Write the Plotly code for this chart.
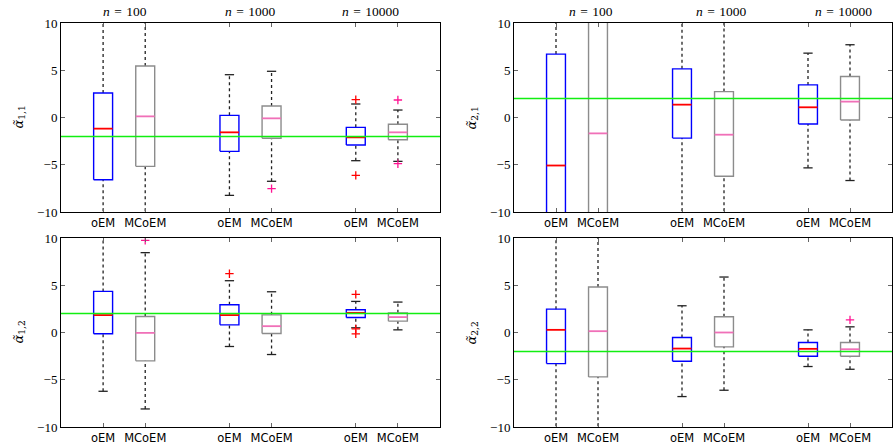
import plotly.graph_objects as go

# ---------------- data ----------------
positions = [1, 2, 4, 5, 7, 8]
method_labels = ["oEM", "MCoEM", "oEM", "MCoEM", "oEM", "MCoEM"]
group_sizes = ["100", "1000", "10000"]
panel_subscripts = ["1,1", "2,1", "1,2", "2,2"]
true_values = [-2, 2, 2, -2]

# alpha_11 (top-left)
a11_q1 = [-6.58, -5.17, -3.58, -2.20, -2.91, -2.35]
a11_med = [-1.18, 0.12, -1.57, -0.09, -2.10, -1.57]
a11_q3 = [2.59, 5.45, 0.23, 1.22, -1.04, -0.72]
a11_lo = [-15.0, -15.0, -8.24, -6.75, -4.57, -4.64]
a11_hi = [15.0, 15.0, 4.53, 4.89, 1.43, 0.79]
a11_out = [[], [], [], [-7.53], [1.89, -6.12], [1.85, -4.89]]

# alpha_21 (top-right)
a21_q1 = [-14.0, -14.0, -2.18, -6.21, -0.69, -0.27]
a21_med = [-5.08, -1.68, 1.36, -1.82, 1.08, 1.68]
a21_q3 = [6.71, 13.0, 5.15, 2.74, 3.45, 4.34]
a21_lo = [-20.0, -20.0, -15.0, -15.0, -5.33, -6.67]
a21_hi = [15.0, 20.0, 15.0, 15.0, 6.81, 7.70]
a21_out = [[], [], [], [], [], []]

# alpha_12 (bottom-left)
a12_q1 = [-0.14, -3.00, 0.81, -0.11, 1.59, 1.20]
a12_med = [1.84, -0.04, 1.84, 0.67, 2.08, 1.63]
a12_q3 = [4.35, 1.70, 2.93, 1.87, 2.40, 2.08]
a12_lo = [-6.22, -8.09, -1.48, -2.33, 0.50, 0.28]
a12_hi = [15.0, 8.45, 5.48, 4.31, 3.29, 3.22]
a12_out = [[], [9.75], [6.22], [], [4.03, 0.38, -0.15], []]

# alpha_22 (bottom-right)
a22_q1 = [-3.29, -4.70, -3.04, -1.52, -2.51, -2.51]
a22_med = [0.28, 0.14, -1.70, 0.00, -1.73, -1.77]
a22_q3 = [2.47, 4.81, -0.53, 1.66, -1.06, -1.06]
a22_lo = [-15.0, -15.0, -6.78, -6.11, -3.60, -3.89]
a22_hi = [15.0, 15.0, 2.83, 5.87, 0.28, 0.60]
a22_out = [[], [], [], [], [], [1.34]]

panels = [
    (a11_q1, a11_med, a11_q3, a11_lo, a11_hi, a11_out),
    (a21_q1, a21_med, a21_q3, a21_lo, a21_hi, a21_out),
    (a12_q1, a12_med, a12_q3, a12_lo, a12_hi, a12_out),
    (a22_q1, a22_med, a22_q3, a22_lo, a22_hi, a22_out),
]

# ---------------- style ----------------
W, H = 893, 444
BOX_HALF = 0.225
CAP_HALF = 0.11
box_colors = ["#0000ff", "#8c8c8c"]
median_colors = ["#ff0000", "#f070b8"]
outlier_colors = ["#ff0000", "#ff1493"]
whisker_color = "#222222"
truth_color = "#11ee11"
serif = "DejaVu Serif, Liberation Serif, serif"
num_serif = "Liberation Serif, Times New Roman, serif"
sans = "DejaVu Sans, sans-serif"

# pixel boxes of plotting areas: (left, right, top, bottom)
areas = [(61, 440, 23, 212), (514, 892, 23, 212), (61, 440, 238, 427), (514, 892, 238, 427)]
group_label_x = [[1.52, 4.49, 7.36], [1.83, 4.95, 7.85]]

fig = go.Figure()
layout = dict(template="none", width=W, height=H, margin=dict(l=0, r=0, t=0, b=0, autoexpand=False),
              paper_bgcolor="white", plot_bgcolor="white", showlegend=False)
annotations = []

for k, (q1, med, q3, lo, hi, out) in enumerate(panels):
    sfx = "" if k == 0 else str(k + 1)
    xa, ya = "x" + sfx, "y" + sfx
    l, r, t, b = areas[k]
    layout["xaxis" + sfx] = dict(
        domain=[l / W, r / W], range=[0, 9], anchor=ya, automargin=False,
        tickmode="array", tickvals=positions, ticktext=method_labels,
        tickfont=dict(family=sans, size=11.5, color="black"),
        ticks="inside", ticklen=4, tickcolor="#666", showline=True, linecolor="black",
        linewidth=1, mirror="allticks", showgrid=False, zeroline=False, fixedrange=True)
    layout["yaxis" + sfx] = dict(
        domain=[1 - b / H, 1 - t / H], range=[-10, 10], anchor=xa, automargin=False,
        tickmode="array", tickvals=[-10, -5, 0, 5, 10], ticktext=["−10", "−5", "0", "5", "10"],
        tickfont=dict(family=num_serif, size=13, color="black"),
        ticks="inside", ticklen=4, tickcolor="#666", showline=True, linecolor="black",
        linewidth=1, mirror="allticks", showgrid=False, zeroline=False, fixedrange=True)
    # y-axis label as rotated annotation
    annotations.append(dict(
        x=(l - 42) / W, y=1 - ((t + b) / 2) / H, xref="paper", yref="paper",
        text="<i>α̃</i><sub>" + panel_subscripts[k] + "</sub>", textangle=-90,
        showarrow=False, xanchor="center", yanchor="middle",
        font=dict(family=serif, size=13, color="black")))

    for m in range(2):
        idx = [i for i in range(len(positions)) if i % 2 == m]
        wx, wy, cx, cy, bx, by, mx, my, ox, oy = [], [], [], [], [], [], [], [], [], []
        for i in idx:
            p = positions[i]
            wx += [p, p, None, p, p, None]
            wy += [q3[i], hi[i], None, lo[i], q1[i], None]
            cx += [p - CAP_HALF, p + CAP_HALF, None, p - CAP_HALF, p + CAP_HALF, None]
            cy += [hi[i], hi[i], None, lo[i], lo[i], None]
            bx += [p - BOX_HALF, p + BOX_HALF, p + BOX_HALF, p - BOX_HALF, p - BOX_HALF, None]
            by += [q1[i], q1[i], q3[i], q3[i], q1[i], None]
            mx += [p - BOX_HALF, p + BOX_HALF, None]
            my += [med[i], med[i], None]
            for v in out[i]:
                ox.append(p)
                oy.append(v)
        fig.add_trace(go.Scatter(x=wx, y=wy, mode="lines", xaxis=xa, yaxis=ya,
                                 line=dict(color=whisker_color, width=1.3, dash="3px,3px"),
                                 hoverinfo="skip"))
        fig.add_trace(go.Scatter(x=cx, y=cy, mode="lines", xaxis=xa, yaxis=ya,
                                 line=dict(color=whisker_color, width=1.3), hoverinfo="skip"))
        fig.add_trace(go.Scatter(x=bx, y=by, mode="lines", xaxis=xa, yaxis=ya,
                                 line=dict(color=box_colors[m], width=1.4), hoverinfo="skip"))
        fig.add_trace(go.Scatter(x=mx, y=my, mode="lines", xaxis=xa, yaxis=ya,
                                 line=dict(color=median_colors[m], width=1.8), hoverinfo="skip"))
        if ox:
            fig.add_trace(go.Scatter(x=ox, y=oy, mode="markers", xaxis=xa, yaxis=ya,
                                     marker=dict(symbol="cross-thin", size=6,
                                                 line=dict(color=outlier_colors[m], width=1.3)),
                                     hoverinfo="skip"))
    # true value line
    fig.add_trace(go.Scatter(x=[0, 9], y=[true_values[k]] * 2, mode="lines",
                             xaxis=xa, yaxis=ya, line=dict(color=truth_color, width=1.5),
                             hoverinfo="skip"))
    # group labels on top panels
    if k < 2:
        for g, size in enumerate(group_sizes):
            annotations.append(dict(
                x=group_label_x[k][g], y=1 - 12 / H, xref=xa, yref="paper",
                text="<i>n</i>\u2004=\u2004" + size, showarrow=False,
                xanchor="center", yanchor="middle",
                font=dict(family=num_serif, size=13.5, color="black")))

layout["annotations"] = annotations
fig.update_layout(**layout)
fig.write_html("out.html", config={"displayModeBar": False},
               post_script="document.body.style.margin='0';document.body.style.overflow='hidden';")
